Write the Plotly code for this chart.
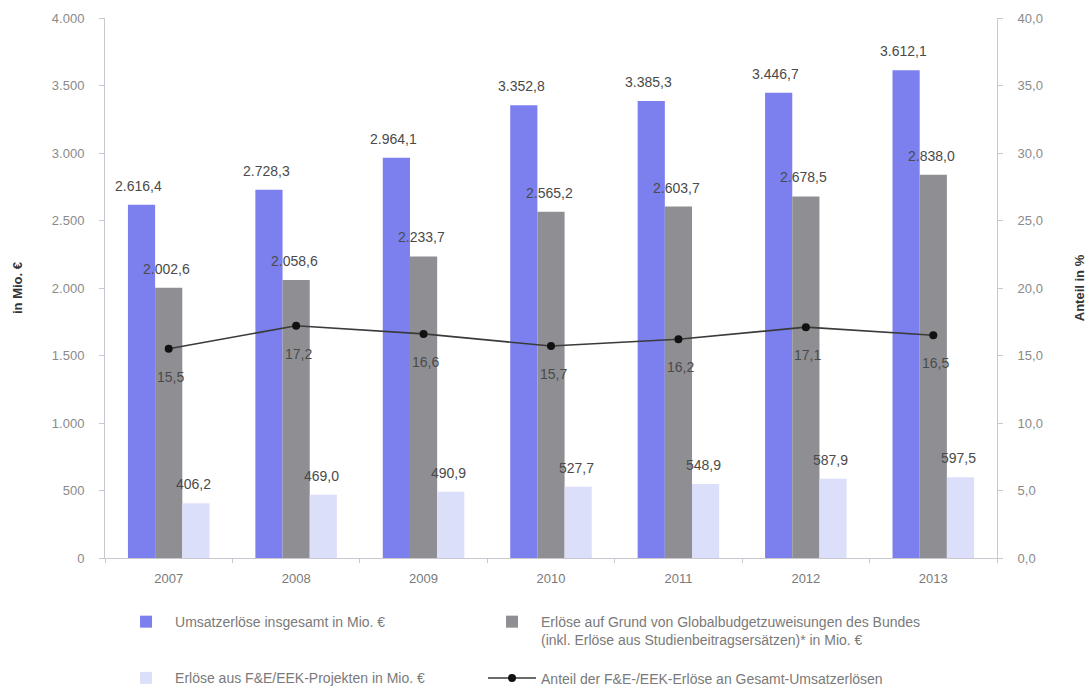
import plotly.graph_objects as go

years = ["2007", "2008", "2009", "2010", "2011", "2012", "2013"]
umsatz_gesamt = [2616.4, 2728.3, 2964.1, 3352.8, 3385.3, 3446.7, 3612.1]
globalbudget = [2002.6, 2058.6, 2233.7, 2565.2, 2603.7, 2678.5, 2838.0]
fe_eek = [406.2, 469.0, 490.9, 527.7, 548.9, 587.9, 597.5]
anteil_pct = [15.5, 17.2, 16.6, 15.7, 16.2, 17.1, 16.5]

left_ticks = [0, 500, 1000, 1500, 2000, 2500, 3000, 3500, 4000]
left_ticktext = ["0", "500", "1.000", "1.500", "2.000", "2.500", "3.000", "3.500", "4.000"]
right_ticks = [0, 5, 10, 15, 20, 25, 30, 35, 40]
right_ticktext = ["0,0", "5,0", "10,0", "15,0", "20,0", "25,0", "30,0", "35,0", "40,0"]

FONT = "Liberation Sans, Arial, sans-serif"
LABEL = dict(family=FONT, size=14, color="#4a4a4a")


def de_num(v):
    """German number format: 2616.4 -> '2.616,4'."""
    s = f"{v:,.1f}"
    return s.replace(",", "X").replace(".", ",").replace("X", ".")


fig = go.Figure()

bar_specs = [
    ("Umsatzerlöse insgesamt in Mio. €", umsatz_gesamt, "#7b80ee", "legend"),
    ("Erlöse auf Grund von Globalbudgetzuweisungen des Bundes<br>(inkl. Erlöse aus Studienbeitragsersätzen)* in Mio. €",
     globalbudget, "#8f8f93", "legend2"),
    ("Erlöse aus F&E/EEK-Projekten in Mio. €", fe_eek, "#dcdff9", "legend"),
]
for i, (name, vals, col, leg) in enumerate(bar_specs):
    fig.add_trace(go.Bar(
        x=years, y=vals, name=name, marker=dict(color=col, line=dict(width=0)),
        legend=leg, legendgroup=f"g{i}",
    ))

fig.add_trace(go.Scatter(
    x=years, y=anteil_pct, name="Anteil der F&E-/EEK-Erlöse an Gesamt-Umsatzerlösen",
    yaxis="y2", mode="lines+markers",
    line=dict(color="#3a3a3a", width=1.6),
    marker=dict(color="#111111", size=8),
    cliponaxis=False, legend="legend2", legendgroup="g3",
))

# value labels above each bar (bar width ~27 px, groups of three)
annotations = []
for (name, vals, col, leg), dx in zip(bar_specs, (-28, 0, 27)):
    for idx, v in enumerate(vals):
        annotations.append(dict(
            x=idx, y=v, xref="x", yref="y", text=de_num(v), showarrow=False,
            xshift=dx - 2, yshift=19, font=LABEL,
        ))
# share labels below the line markers
for idx, v in enumerate(anteil_pct):
    annotations.append(dict(
        x=idx, y=v, xref="x", yref="y2", text=f"{v:.1f}".replace(".", ","),
        showarrow=False, xshift=2, yshift=-28, font=LABEL,
    ))

legend_common = dict(
    orientation="v", xanchor="left", yanchor="top", valign="top",
    font=dict(family=FONT, size=14, color="#7a7a7a"),
    traceorder="grouped", itemwidth=48, bgcolor="rgba(0,0,0,0)",
)

fig.update_layout(
    width=1091, height=690,
    margin=dict(l=105, r=94, t=18, b=132, autoexpand=False),
    paper_bgcolor="white", plot_bgcolor="white",
    separators=",.",
    barmode="group", bargap=0.36, bargroupgap=0,
    font=dict(family=FONT, size=12, color="#8a8a8a"),
    annotations=annotations,
    xaxis=dict(
        type="category", range=[-0.5, len(years) - 0.5],
        showline=True, linecolor="#c8c8d0", linewidth=1,
        ticks="outside", tickson="boundaries", ticklen=4, tickcolor="#c8c8d0",
        tickfont=dict(family=FONT, size=13, color="#7a7a7a"),
        ticklabelstandoff=8,
        showgrid=False,
    ),
    yaxis=dict(
        range=[0, 4000], tickvals=left_ticks, ticktext=left_ticktext,
        showline=True, linecolor="#c8c8d0", linewidth=1,
        ticks="outside", ticklen=5, tickcolor="#c8c8d0",
        ticklabelstandoff=12,
        showgrid=False, zeroline=False,
        tickfont=dict(family=FONT, size=13, color="#8a8a8a"),
        title=dict(text="<b>in Mio. €</b>", font=dict(family=FONT, size=13, color="#333333"), standoff=26),
    ),
    yaxis2=dict(
        overlaying="y", side="right", range=[0, 40],
        tickvals=right_ticks, ticktext=right_ticktext,
        showline=True, linecolor="#c8c8d0", linewidth=1,
        ticks="outside", ticklen=5, tickcolor="#c8c8d0",
        ticklabelstandoff=12,
        showgrid=False, zeroline=False,
        tickfont=dict(family=FONT, size=13, color="#8a8a8a"),
        title=dict(text="<b>Anteil in %</b>", font=dict(family=FONT, size=13, color="#333333"), standoff=32),
    ),
    legend=dict(x=0.0135, y=-0.089, tracegroupgap=35, **legend_common),
    legend2=dict(x=0.4238, y=-0.089, tracegroupgap=17, **legend_common),
)

fig.write_html("out.html")
